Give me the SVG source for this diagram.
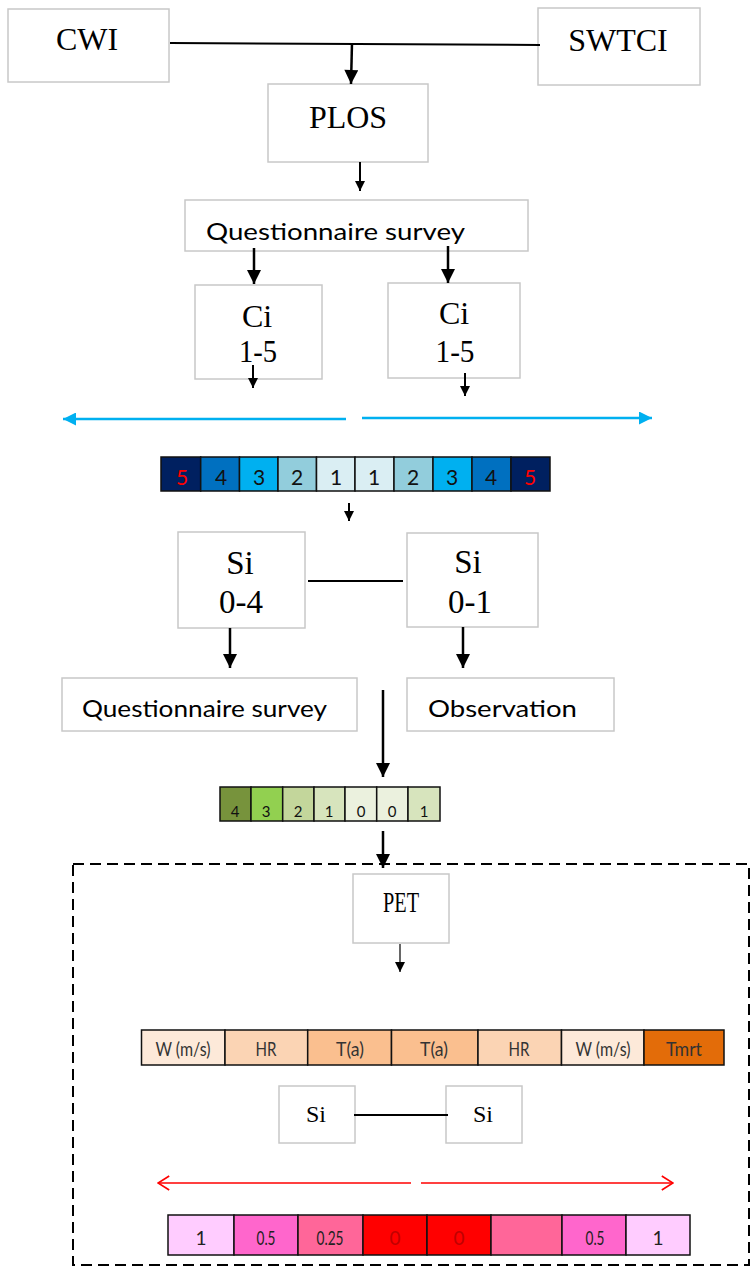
<svg xmlns="http://www.w3.org/2000/svg" width="756" height="1270" viewBox="0 0 756 1270">
  <defs>
    <marker id="tri" viewBox="0 0 10 10" refX="10" refY="5" markerWidth="10" markerHeight="10" markerUnits="userSpaceOnUse" orient="auto">
      <path d="M0,0 L10,5 L0,10 z" fill="#000"/>
    </marker>
    <marker id="triBig" viewBox="0 0 10 10" refX="10" refY="5" markerWidth="16" markerHeight="14" markerUnits="userSpaceOnUse" orient="auto">
      <path d="M0,0 L10,5 L0,10 z" fill="#000"/>
    </marker>
    <marker id="blueHead" viewBox="0 0 10 10" refX="10" refY="5" markerWidth="14" markerHeight="13" markerUnits="userSpaceOnUse" orient="auto">
      <path d="M0,0 L10,5 L0,10 z" fill="#00b0f0"/>
    </marker>
    <marker id="redHead" viewBox="0 0 10 10" refX="9" refY="5" markerWidth="14" markerHeight="16" markerUnits="userSpaceOnUse" orient="auto">
      <path d="M1,0 L9,5 L1,10" fill="none" stroke="#ff0000" stroke-width="1.2"/>
    </marker>
  </defs>
  <style>
    .box { fill: #fff; stroke: #c8c8c8; stroke-width: 1.5; }
    .serif { font-family: "Liberation Serif", "Times New Roman", serif; fill: #000; text-anchor: middle; }
    .sans { font-family: Lato, "Open Sans", "Liberation Sans", sans-serif; fill: #000; }
    .big { font-size: 32px; }
    .cell { stroke: #111; stroke-width: 1.5; }
    .bartxt { font-family: Lato, "Open Sans", "Liberation Sans", sans-serif; text-anchor: middle; }
    .wire { stroke: #000; stroke-width: 2; fill: none; }
    .arrow { stroke: #000; stroke-width: 2; fill: none; marker-end: url(#tri); }
    .arrowBig { stroke: #000; stroke-width: 2.5; fill: none; marker-end: url(#triBig); }
  </style>

  <rect width="756" height="1270" fill="#fff"/>

  <!-- dashed frame around the PET section -->
  <rect x="73" y="864" width="676" height="401" fill="none" stroke="#000" stroke-width="2" stroke-dasharray="11 6"/>

  <!-- nodes -->
  <g id="cwi">
    <rect class="box" x="8" y="9" width="161" height="73"/>
    <text class="serif big" x="87" y="50">CWI</text>
  </g>
  <g id="swtci">
    <rect class="box" x="538" y="8" width="162" height="77"/>
    <text class="serif big" x="618" y="51">SWTCI</text>
  </g>
  <g id="plos">
    <rect class="box" x="268" y="84" width="160" height="78"/>
    <text class="serif big" x="348" y="128">PLOS</text>
  </g>
  <g id="survey1">
    <rect class="box" x="185" y="200" width="343" height="51"/>
    <text class="sans" x="206" y="240" font-size="24" textLength="259" lengthAdjust="spacingAndGlyphs">Questionnaire survey</text>
  </g>
  <g id="ci1">
    <rect class="box" x="195" y="285" width="127" height="94"/>
    <text class="serif big" x="257" y="327">Ci</text>
    <text class="serif" x="258" y="362" font-size="31" textLength="38" lengthAdjust="spacingAndGlyphs">1-5</text>
  </g>
  <g id="ci2">
    <rect class="box" x="388" y="283" width="132" height="95"/>
    <text class="serif big" x="454" y="324">Ci</text>
    <text class="serif" x="455" y="362" font-size="31" textLength="39" lengthAdjust="spacingAndGlyphs">1-5</text>
  </g>

  <g id="comfortScale">
    <rect class="cell" x="161" y="457" width="39.7" height="34" fill="#002060"/>
    <rect class="cell" x="200.7" y="457" width="38.8" height="34" fill="#0070c0"/>
    <rect class="cell" x="239.5" y="457" width="38.5" height="34" fill="#00b0f0"/>
    <rect class="cell" x="278" y="457" width="38.5" height="34" fill="#92cddc"/>
    <rect class="cell" x="316.5" y="457" width="38.5" height="34" fill="#daeef3"/>
    <rect class="cell" x="355" y="457" width="39" height="34" fill="#daeef3"/>
    <rect class="cell" x="394" y="457" width="39" height="34" fill="#92cddc"/>
    <rect class="cell" x="433" y="457" width="39" height="34" fill="#00b0f0"/>
    <rect class="cell" x="472" y="457" width="39" height="34" fill="#0070c0"/>
    <rect class="cell" x="511" y="457" width="39" height="34" fill="#002060"/>
    <g class="bartxt" font-size="21">
      <text x="182" y="485" fill="#ff0000">5</text>
      <text x="221" y="485" fill="#111">4</text>
      <text x="259" y="485" fill="#111">3</text>
      <text x="297" y="485" fill="#111">2</text>
      <text x="336" y="485" fill="#111">1</text>
      <text x="374" y="485" fill="#111">1</text>
      <text x="413" y="485" fill="#111">2</text>
      <text x="452" y="485" fill="#111">3</text>
      <text x="491" y="485" fill="#111">4</text>
      <text x="530" y="485" fill="#ff0000">5</text>
    </g>
  </g>

  <g id="si1">
    <rect class="box" x="178" y="532" width="127" height="96"/>
    <text class="serif" x="240" y="574" font-size="33">Si</text>
    <text class="serif" x="241" y="613" font-size="33">0-4</text>
  </g>
  <g id="si2">
    <rect class="box" x="407" y="533" width="131" height="94"/>
    <text class="serif" x="468" y="573" font-size="33">Si</text>
    <text class="serif" x="470" y="613" font-size="33">0-1</text>
  </g>
  <g id="survey2">
    <rect class="box" x="62" y="678" width="295" height="53"/>
    <text class="sans" x="82" y="717" font-size="23" textLength="245" lengthAdjust="spacingAndGlyphs">Questionnaire survey</text>
  </g>
  <g id="observation">
    <rect class="box" x="407" y="678" width="207" height="53"/>
    <text class="sans" x="428" y="717" font-size="23" textLength="149" lengthAdjust="spacingAndGlyphs">Observation</text>
  </g>

  <g id="sensationScale">
    <rect class="cell" x="220" y="787" width="31" height="34" fill="#77933c"/>
    <rect class="cell" x="251" y="787" width="31.7" height="34" fill="#92d050"/>
    <rect class="cell" x="282.7" y="787" width="31.3" height="34" fill="#c3d69b"/>
    <rect class="cell" x="314" y="787" width="31" height="34" fill="#d7e4bd"/>
    <rect class="cell" x="345" y="787" width="31.7" height="34" fill="#ebf1de"/>
    <rect class="cell" x="376.7" y="787" width="31.3" height="34" fill="#ebf1de"/>
    <rect class="cell" x="408" y="787" width="32" height="34" fill="#d7e4bd"/>
    <g class="bartxt" font-size="15" fill="#111">
      <text x="235" y="817">4</text>
      <text x="266" y="817">3</text>
      <text x="298" y="817">2</text>
      <text x="329" y="817">1</text>
      <text x="361" y="817">0</text>
      <text x="392" y="817">0</text>
      <text x="424" y="817">1</text>
    </g>
  </g>

  <g id="pet">
    <rect class="box" x="353" y="874" width="96" height="69"/>
    <text class="serif" x="401" y="912" font-size="29" textLength="36" lengthAdjust="spacingAndGlyphs">PET</text>
  </g>

  <g id="petFactors">
    <rect class="cell" x="141.5" y="1030" width="83.5" height="35" fill="#fde9d9"/>
    <rect class="cell" x="225" y="1030" width="82.7" height="35" fill="#fbd4b4"/>
    <rect class="cell" x="307.7" y="1030" width="83.8" height="35" fill="#fabf8f"/>
    <rect class="cell" x="391.5" y="1030" width="86.5" height="35" fill="#fabf8f"/>
    <rect class="cell" x="478" y="1030" width="83.5" height="35" fill="#fbd4b4"/>
    <rect class="cell" x="561.5" y="1030" width="82.5" height="35" fill="#fde9d9"/>
    <rect class="cell" x="644" y="1030" width="80" height="35" fill="#e36c09"/>
    <g class="bartxt" font-size="20" fill="#333">
      <text x="183" y="1056" textLength="55" lengthAdjust="spacingAndGlyphs">W (m/s)</text>
      <text x="266" y="1056" textLength="21" lengthAdjust="spacingAndGlyphs">HR</text>
      <text x="350" y="1056" textLength="28" lengthAdjust="spacingAndGlyphs">T(a)</text>
      <text x="434" y="1056" textLength="28" lengthAdjust="spacingAndGlyphs">T(a)</text>
      <text x="519" y="1056" textLength="21" lengthAdjust="spacingAndGlyphs">HR</text>
      <text x="603" y="1056" textLength="55" lengthAdjust="spacingAndGlyphs">W (m/s)</text>
      <text x="684" y="1056" textLength="36" lengthAdjust="spacingAndGlyphs">Tmrt</text>
    </g>
  </g>

  <g id="si3">
    <rect class="box" x="279" y="1086" width="76" height="57"/>
    <text class="serif" x="316" y="1122" font-size="24">Si</text>
  </g>
  <g id="si4">
    <rect class="box" x="446" y="1086" width="76" height="57"/>
    <text class="serif" x="483" y="1122" font-size="24">Si</text>
  </g>

  <g id="indexScale">
    <rect class="cell" x="168" y="1215" width="66" height="40" fill="#ffccff"/>
    <rect class="cell" x="234" y="1215" width="64" height="40" fill="#ff66cc"/>
    <rect class="cell" x="298" y="1215" width="65" height="40" fill="#ff6699"/>
    <rect class="cell" x="363" y="1215" width="64" height="40" fill="#ff0000"/>
    <rect class="cell" x="427" y="1215" width="64" height="40" fill="#ff0000"/>
    <rect class="cell" x="491" y="1215" width="71" height="40" fill="#ff6699"/>
    <rect class="cell" x="562" y="1215" width="64" height="40" fill="#ff66cc"/>
    <rect class="cell" x="626" y="1215" width="64" height="40" fill="#ffccff"/>
    <g class="bartxt" font-size="19" fill="#222">
      <text x="201" y="1245">1</text>
      <text x="266" y="1245" textLength="19" lengthAdjust="spacingAndGlyphs">0.5</text>
      <text x="330" y="1245" textLength="27" lengthAdjust="spacingAndGlyphs">0.25</text>
      <text x="395" y="1245" fill="#c00000">0</text>
      <text x="459" y="1245" fill="#c00000">0</text>
      <text x="595" y="1245" textLength="19" lengthAdjust="spacingAndGlyphs">0.5</text>
      <text x="658" y="1245">1</text>
    </g>
  </g>

  <!-- connectors -->
  <g id="connectors">
    <path class="wire" d="M170,43 L540,45"/>
    <path class="arrowBig" d="M352,43 L351,84"/>
    <path class="arrow" d="M360,162 L360,191"/>
    <path class="arrowBig" d="M254,248 L254,284"/>
    <path class="arrowBig" d="M448,246 L448,283"/>
    <path class="arrow" d="M253,365 L253,388"/>
    <path class="arrow" d="M465,373 L465,396"/>
    <path d="M346,419 L63,419" stroke="#00b0f0" stroke-width="2.5" fill="none" marker-end="url(#blueHead)"/>
    <path d="M362,418 L652,418" stroke="#00b0f0" stroke-width="2.5" fill="none" marker-end="url(#blueHead)"/>
    <path class="arrow" d="M349,503 L349,521"/>
    <path class="wire" d="M308,581 L403,581"/>
    <path class="arrowBig" d="M230,628 L230,668"/>
    <path class="arrowBig" d="M463,627 L463,668"/>
    <path class="arrowBig" d="M383,690 L383,777"/>
    <path class="arrowBig" d="M383,831 L383,868"/>
    <path d="M400,944 L400,972" stroke="#000" stroke-width="1.2" fill="none" marker-end="url(#tri)"/>
    <path class="wire" d="M354,1115 L448,1115"/>
    <path d="M411,1183 L158,1183" stroke="#ff0000" stroke-width="1.5" fill="none" marker-end="url(#redHead)"/>
    <path d="M421,1183 L673,1183" stroke="#ff0000" stroke-width="1.5" fill="none" marker-end="url(#redHead)"/>
  </g>
</svg>
